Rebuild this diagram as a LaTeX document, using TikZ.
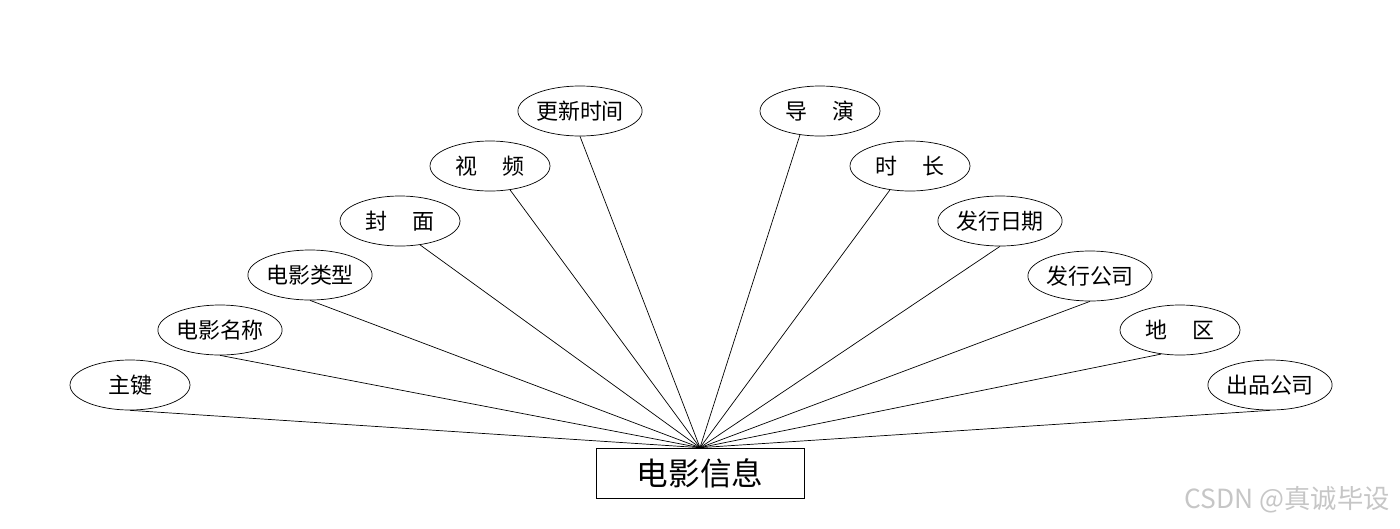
\documentclass[tikz,border=0pt]{standalone}
\usepackage{fontspec}
\setmainfont{Noto Sans CJK SC}
\usetikzlibrary{positioning, shapes.geometric}

\begin{document}
\begin{tikzpicture}[
	x=0.02cm, y=-0.02cm,
	attr/.style={ellipse, draw, thin, minimum width=2.4cm, minimum height=1cm,
		inner sep=0pt, font=\fontsize{12.5}{14}\selectfont},
	entity/.style={rectangle, draw, thin, minimum width=4.16cm, minimum height=1cm,
		font=\fontsize{18}{20}\selectfont},
	link/.style={thin, black}
	]
	\useasboundingbox (0,0) rectangle (1400,528);
	
	% Сущность
	\node[entity] (movie) at (700,473) {电影信息};
	
	% Атрибуты слева
	\node[attr] (key) at (130,385) {主键};
	\node[attr] (name) at (220,330) {电影名称};
	\node[attr] (type) at (310,275) {电影类型};
	\node[attr] (cover) at (400,221) {封\hspace{1.1em}面};
	\node[attr] (video) at (490,166) {视\hspace{1.1em}频};
	\node[attr] (update) at (580,111) {更新时间};
	
	% Атрибуты справа
	\node[attr] (director) at (820,111) {导\hspace{1.1em}演};
	\node[attr] (length) at (910,166) {时\hspace{1.1em}长};
	\node[attr] (release) at (1000,221) {发行日期};
	\node[attr] (distrib) at (1090,276) {发行公司};
	\node[attr] (region) at (1180,330) {地\hspace{1.1em}区};
	\node[attr] (producer) at (1270,385) {出品公司};
	
	% Связи
	\draw[link] (key.south) -- (movie.north);
	\draw[link] (name.south) -- (movie.north);
	\draw[link] (type.south) -- (movie.north);
	\draw[link] (cover.-50) -- (movie.north);
	\draw[link] (video.-50) -- (movie.north);
	\draw[link] (update.south) -- (movie.north);
	\draw[link] (director.-130) -- (movie.north);
	\draw[link] (length.-130) -- (movie.north);
	\draw[link] (release.south) -- (movie.north);
	\draw[link] (distrib.south) -- (movie.north);
	\draw[link] (region.-128) -- (movie.north);
	\draw[link] (producer.south) -- (movie.north);
	
	% Водяной знак
	\node[font=\fontsize{15}{17}\selectfont, text=gray!45, anchor=east] (mark) at (1396,500) {CSDN @真诚毕设};
	
\end{tikzpicture}
\end{document}
